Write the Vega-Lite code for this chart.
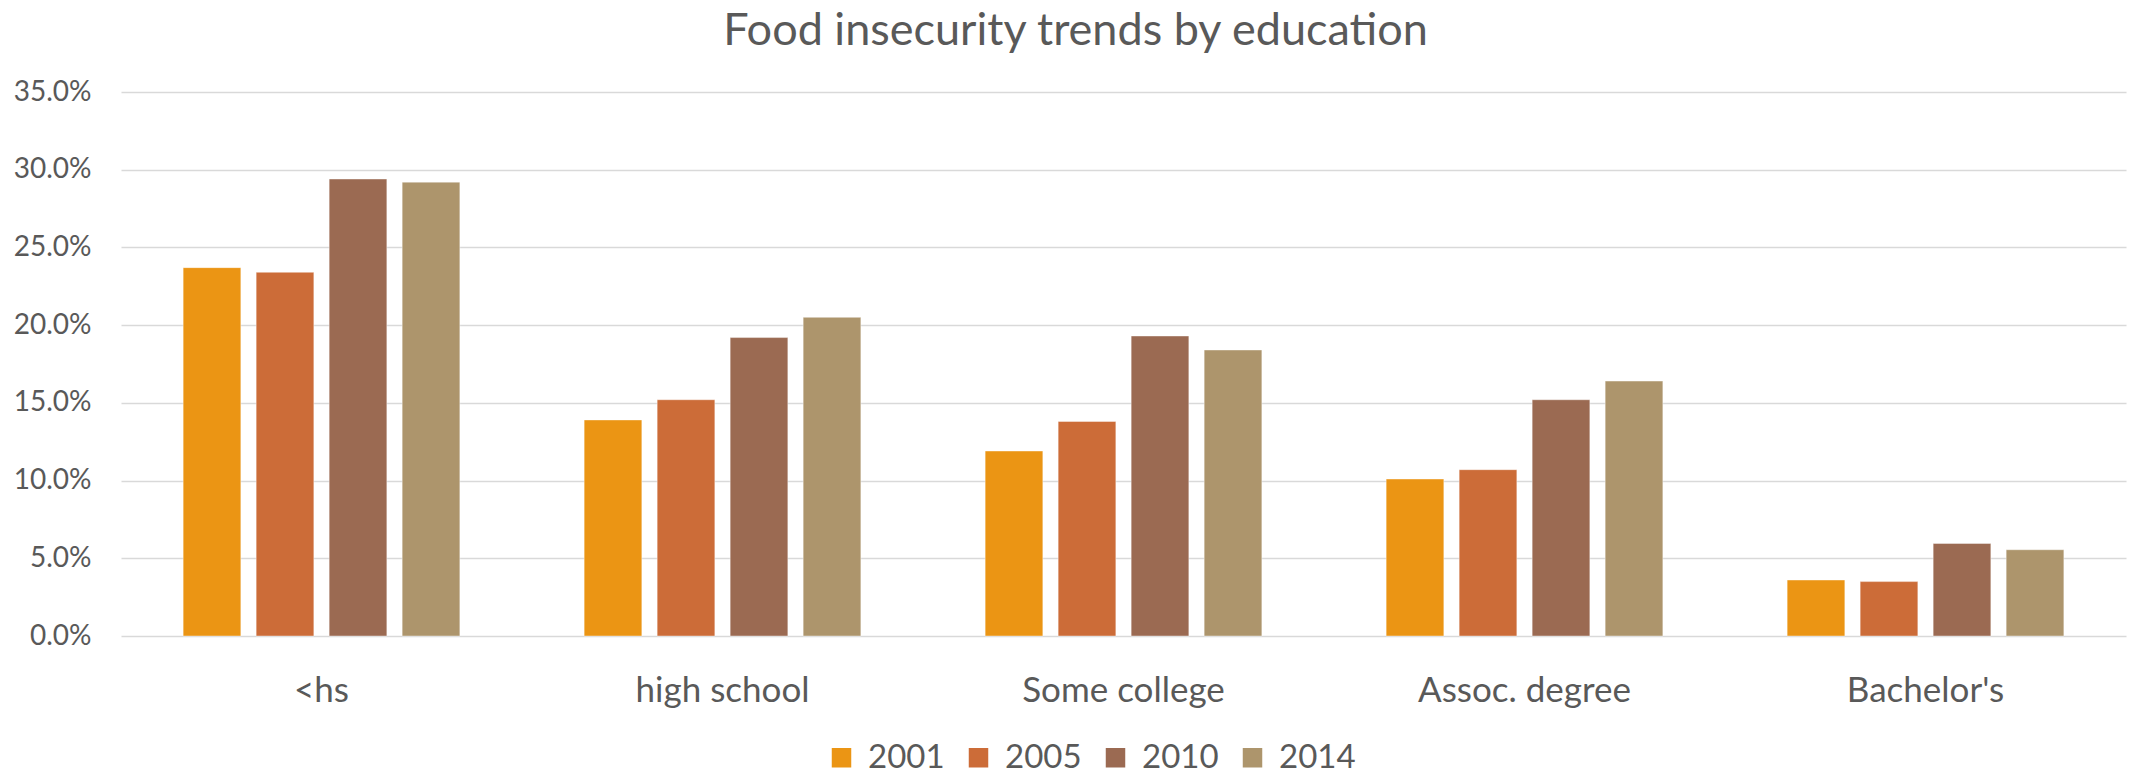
{
  "$schema": "https://vega.github.io/schema/vega-lite/v6.json",
  "autosize": {"type": "none"},
  "padding": {"left": 121, "top": 92, "right": 3, "bottom": 140},
  "width": 2005,
  "height": 544,
  "background": "white",
  "title": {
    "text": "Food insecurity trends by education",
    "font": "Lato",
    "fontSize": 45,
    "fontWeight": "normal",
    "color": "#595959",
    "anchor": "middle",
    "dx": -48,
    "offset": -12,
    "baseline": "alphabetic"
  },
  "data": {
    "values": [
      {"education": "<hs", "year": "2001", "value": 0.237},
      {"education": "<hs", "year": "2005", "value": 0.234},
      {"education": "<hs", "year": "2010", "value": 0.294},
      {"education": "<hs", "year": "2014", "value": 0.292},
      {"education": "high school", "year": "2001", "value": 0.139},
      {"education": "high school", "year": "2005", "value": 0.152},
      {"education": "high school", "year": "2010", "value": 0.192},
      {"education": "high school", "year": "2014", "value": 0.205},
      {"education": "Some college", "year": "2001", "value": 0.119},
      {"education": "Some college", "year": "2005", "value": 0.138},
      {"education": "Some college", "year": "2010", "value": 0.193},
      {"education": "Some college", "year": "2014", "value": 0.184},
      {"education": "Assoc. degree", "year": "2001", "value": 0.101},
      {"education": "Assoc. degree", "year": "2005", "value": 0.107},
      {"education": "Assoc. degree", "year": "2010", "value": 0.152},
      {"education": "Assoc. degree", "year": "2014", "value": 0.164},
      {"education": "Bachelor's", "year": "2001", "value": 0.036},
      {"education": "Bachelor's", "year": "2005", "value": 0.035},
      {"education": "Bachelor's", "year": "2010", "value": 0.0595},
      {"education": "Bachelor's", "year": "2014", "value": 0.0555}
    ]
  },
  "mark": {"type": "bar", "stroke": "#ffffff", "strokeOpacity": 0.4, "strokeWidth": 1},
  "encoding": {
    "x": {
      "field": "education",
      "type": "nominal",
      "sort": ["<hs", "high school", "Some college", "Assoc. degree", "Bachelor's"],
      "scale": {"paddingInner": 0.31, "paddingOuter": 0.155},
      "axis": {
        "title": null,
        "labelAngle": 0,
        "labelFont": "Lato",
        "labelFontSize": 35,
        "labelLimit": 0,
        "labelColor": "#595959",
        "labelPadding": 37,
        "domain": false,
        "ticks": false,
        "grid": false
      }
    },
    "xOffset": {
      "field": "year",
      "type": "nominal",
      "scale": {"paddingInner": 0.21, "paddingOuter": 0}
    },
    "y": {
      "field": "value",
      "type": "quantitative",
      "scale": {"domain": [0, 0.35], "nice": false},
      "axis": {
        "title": null,
        "values": [0, 0.05, 0.1, 0.15, 0.2, 0.25, 0.3, 0.35],
        "format": ".1%",
        "labelFont": "Lato",
        "labelFontSize": 28,
        "labelColor": "#595959",
        "labelPadding": 30,
        "domain": false,
        "ticks": false,
        "grid": true,
        "gridColor": "#D9D9D9",
        "gridWidth": 1.5
      }
    },
    "color": {
      "field": "year",
      "type": "nominal",
      "scale": {
        "domain": ["2001", "2005", "2010", "2014"],
        "range": ["#EB9514", "#CC6C38", "#9B6A52", "#AD956C"]
      },
      "legend": {
        "title": null,
        "orient": "none",
        "direction": "horizontal",
        "legendX": 704,
        "legendY": 649,
        "symbolType": "square",
        "symbolSize": 380,
        "symbolStrokeWidth": 0,
        "labelFont": "Lato",
        "labelFontSize": 33,
        "labelColor": "#595959",
        "labelOffset": 10,
        "columnPadding": 17
      }
    }
  },
  "config": {"view": {"stroke": null}}
}
